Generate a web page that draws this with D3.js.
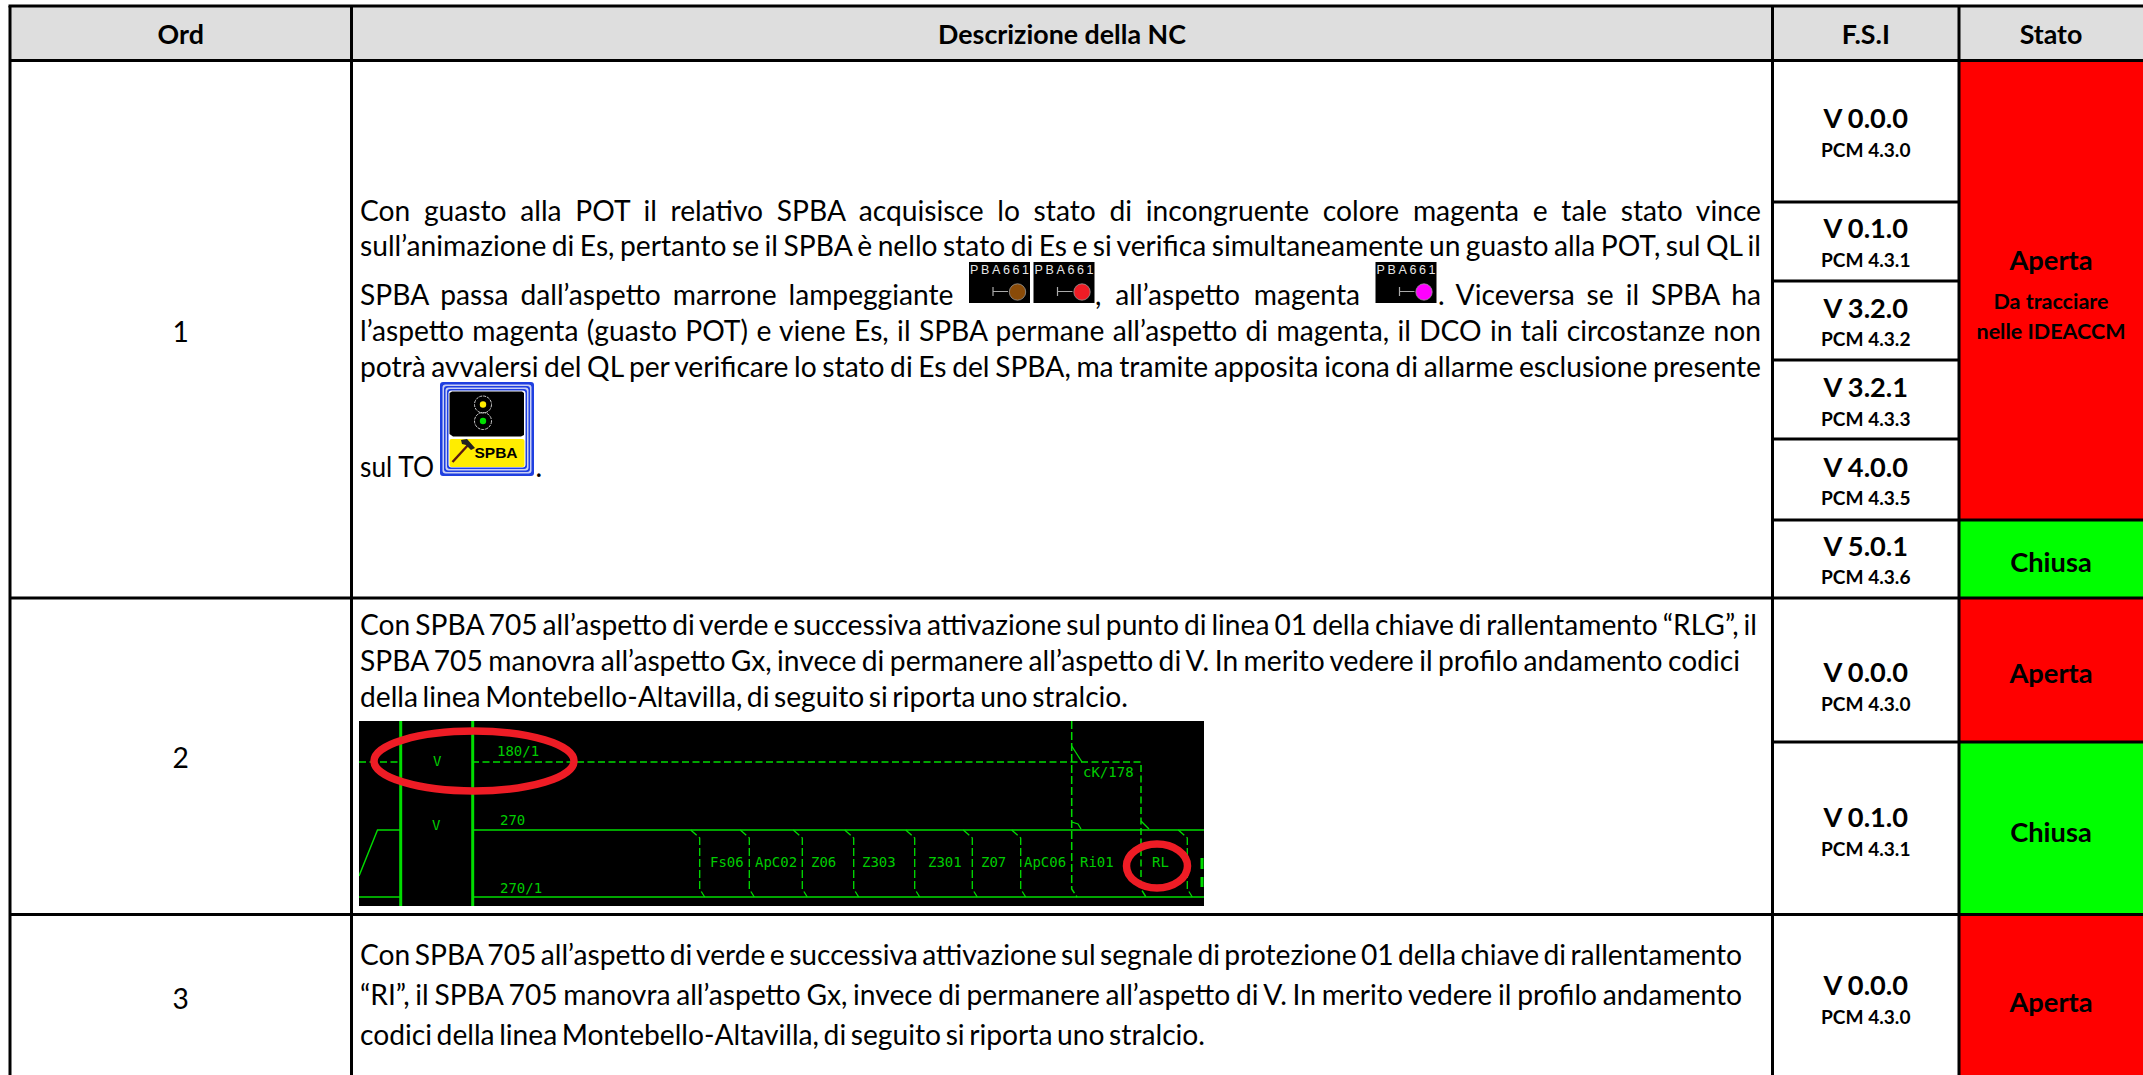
<!DOCTYPE html>
<html>
<head>
    <meta charset="UTF-8">
    <title>Descrizione della NC</title>
    <script src="https://d3js.org/d3.v7.min.js"></script>
    <style>
        html, body { margin: 0; padding: 0; background: #fff; overflow: hidden; }
        svg { display: block; }
        text { font-family: Lato, "Noto Sans", sans-serif; fill: #000; }
        .bold { font-weight: 700; }
        .grid { stroke: #000; stroke-width: 3px; fill: none; }
        .diagram text { font-family: "DejaVu Sans Mono", monospace; fill: #00cc00; font-size: 14px; }
        .chip text { font-family: "Liberation Sans", sans-serif; fill: #e8e8e8; font-size: 12.5px; }
    </style>
</head>
<body>
    <div id="table"></div>
    <script>
        // contenuto della tabella
        const columns = ["Ord", "Descrizione della NC", "F.S.I", "Stato"];
        const ords = ["1", "2", "3"];
        const versions = ["V 0.0.0", "V 0.1.0", "V 3.2.0", "V 3.2.1", "V 4.0.0", "V 5.0.1", "V 0.0.0", "V 0.1.0", "V 0.0.0"];
        const pcms = ["PCM 4.3.0", "PCM 4.3.1", "PCM 4.3.2", "PCM 4.3.3", "PCM 4.3.5", "PCM 4.3.6", "PCM 4.3.0", "PCM 4.3.1", "PCM 4.3.0"];
        const stati = ["Aperta", "Chiusa", "Aperta", "Chiusa", "Aperta"];
        const statoNote = ["Da tracciare", "nelle IDEACCM"];
        const statoColors = { Aperta: "#ff0000", Chiusa: "#00ff00" };

        const row1Lines = [
            "Con guasto alla POT il relativo SPBA acquisisce lo stato di incongruente colore magenta e tale stato vince",
            "sull’animazione di Es, pertanto se il SPBA è nello stato di Es e si verifica simultaneamente un guasto alla POT, sul QL il",
            "SPBA passa dall’aspetto marrone lampeggiante",
            ", all’aspetto magenta",
            ". Viceversa se il SPBA ha",
            "l’aspetto magenta (guasto POT) e viene Es, il SPBA permane all’aspetto di magenta, il DCO in tali circostanze non",
            "potrà avvalersi del QL per verificare lo stato di Es del SPBA, ma tramite apposita icona di allarme esclusione presente",
            "sul TO",
            "."
        ];
        const row2Lines = [
            "Con SPBA 705 all’aspetto di verde e successiva attivazione sul punto di linea 01 della chiave di rallentamento “RLG”, il",
            "SPBA 705 manovra all’aspetto Gx, invece di permanere all’aspetto di V. In merito vedere il profilo andamento codici",
            "della linea Montebello-Altavilla, di seguito si riporta uno stralcio."
        ];
        const row3Lines = [
            "Con SPBA 705 all’aspetto di verde e successiva attivazione sul segnale di protezione 01 della chiave di rallentamento",
            "“RI”, il SPBA 705 manovra all’aspetto Gx, invece di permanere all’aspetto di V. In merito vedere il profilo andamento",
            "codici della linea Montebello-Altavilla, di seguito si riporta uno stralcio."
        ];

        const chipLabel = "PBA661";
        const chipColors = ["#8a4b08", "#ee1c25", "#ff00ff"];

        const diagramLabels = ["180/1", "V", "V", "270", "270/1", "Fs06", "ApC02", "Z06", "Z303", "Z301", "Z07", "ApC06", "Ri01", "RL", "cK/178"];

        // impaginazione
        const width = 2143, height = 1075;
        const fontBody = 28.2;

        const colX = d3.scaleOrdinal().domain(columns.concat("end")).range([10, 351.5, 1772.5, 1959, 2143]);
        const colMid = c => (colX(c) + colX(columns[columns.indexOf(c) + 1] || "end")) / 2;

        // righe F.S.I: indice -> y
        const fsiY = d3.scaleLinear().domain(d3.range(10)).range([60.5, 202, 281, 360, 439, 520, 598, 742, 914.5, 1080]);

        const svg = d3.select("#table").append("svg").attr("width", width).attr("height", height);

        // intestazione e celle stato
        svg.append("rect").attr("x", colX("Ord")).attr("y", 6).attr("width", width - colX("Ord")).attr("height", 54.5).attr("fill", "#dedede");

        const statoSpans = [[0, 5], [5, 6], [6, 7], [7, 8], [8, 9]];
        svg.selectAll(".stato-cell")
            .data(stati)
            .join("rect")
            .attr("class", "stato-cell")
            .attr("x", colX("Stato"))
            .attr("width", width - colX("Stato"))
            .attr("y", (d, i) => fsiY(statoSpans[i][0]))
            .attr("height", (d, i) => fsiY(statoSpans[i][1]) - fsiY(statoSpans[i][0]))
            .attr("fill", d => statoColors[d]);

        // griglia
        const grid = svg.append("g").attr("class", "grid");
        grid.selectAll(".v")
            .data(columns)
            .join("line")
            .attr("x1", d => colX(d)).attr("x2", d => colX(d))
            .attr("y1", 6).attr("y2", height);
        grid.append("line").attr("x1", colX("Ord") - 1.5).attr("x2", width).attr("y1", 6).attr("y2", 6);
        grid.selectAll(".h")
            .data([0, 6, 8])
            .join("line")
            .attr("x1", colX("Ord")).attr("x2", width)
            .attr("y1", d => fsiY(d)).attr("y2", d => fsiY(d));
        grid.selectAll(".f")
            .data([1, 2, 3, 4, 5, 7])
            .join("line")
            .attr("x1", colX("F.S.I")).attr("x2", d => d === 5 || d === 7 ? width : colX("Stato"))
            .attr("y1", d => fsiY(d)).attr("y2", d => fsiY(d));

        // testo intestazione
        svg.selectAll(".head")
            .data(columns)
            .join("text")
            .attr("class", "bold")
            .attr("x", d => colMid(d))
            .attr("y", 44)
            .attr("text-anchor", "middle")
            .attr("font-size", 26.8)
            .text(d => d);

        const ordBaseline = [341.5, 768, 1009];
        svg.selectAll(".ord")
            .data(ords)
            .join("text")
            .attr("x", colMid("Ord"))
            .attr("y", (d, i) => ordBaseline[i])
            .attr("text-anchor", "middle")
            .attr("font-size", fontBody)
            .text(d => d);

        // versioni
        const versionBase = [128, 238, 317.5, 397, 476.5, 555.5, 682, 827, 995];
        svg.selectAll(".ver")
            .data(versions)
            .join("text")
            .attr("class", "bold")
            .attr("x", colMid("F.S.I"))
            .attr("y", (d, i) => versionBase[i])
            .attr("text-anchor", "middle")
            .attr("font-size", 27.2)
            .text(d => d);
        svg.selectAll(".pcm")
            .data(pcms)
            .join("text")
            .attr("class", "bold")
            .attr("x", colMid("F.S.I"))
            .attr("y", (d, i) => versionBase[i] + 28.5)
            .attr("text-anchor", "middle")
            .attr("font-size", 19.1)
            .text(d => d);

        // stato
        const statoBase = [270, 572, 683, 842, 1012];
        svg.selectAll(".stato")
            .data(stati)
            .join("text")
            .attr("class", "bold")
            .attr("x", colMid("Stato"))
            .attr("y", (d, i) => statoBase[i])
            .attr("text-anchor", "middle")
            .attr("font-size", 27.3)
            .text(d => d);
        svg.selectAll(".nota")
            .data(statoNote)
            .join("text")
            .attr("class", "bold")
            .attr("x", colMid("Stato"))
            .attr("y", (d, i) => 309 + i * 30)
            .attr("text-anchor", "middle")
            .attr("font-size", 21.5)
            .text(d => d);

        // riga di testo portata alla larghezza voluta con la spaziatura delle parole
        function fitLine(str, x0, x1, y) {
            const t = svg.append("text").attr("x", x0).attr("y", y).attr("font-size", fontBody).text(str);
            const spaces = str.split(" ").length - 1;
            if (x1 && spaces) {
                const extra = (x1 - x0 - t.node().getComputedTextLength()) / spaces;
                t.style("word-spacing", extra + "px");
            }
            return t;
        }

        const textLeft = 360;
        fitLine(row1Lines[0], textLeft, 1761, 220.5);
        fitLine(row1Lines[1], textLeft, 1761, 256);
        fitLine(row1Lines[2], textLeft, 953.5, 304.5);
        fitLine(row1Lines[3], 1095, 1360, 304.5);
        fitLine(row1Lines[4], 1438, 1761, 304.5);
        fitLine(row1Lines[5], textLeft, 1761, 340.5);
        fitLine(row1Lines[6], textLeft, 1761, 376.5);
        // qui Lato e' piu' largo dello spazio prima dell'icona
        fitLine(row1Lines[7], textLeft, null, 476.5).attr("textLength", 74).attr("lengthAdjust", "spacingAndGlyphs");
        fitLine(row1Lines[8], 535.5, null, 476.5);

        const row2Right = [1757, 1740, 1128];
        row2Lines.forEach((s, i) => fitLine(s, textLeft, row2Right[i], 634.5 + i * 36));
        const row3Right = [1742, 1742, 1205];
        row3Lines.forEach((s, i) => fitLine(s, textLeft, row3Right[i], 965 + i * 40));

        // icone PBA661
        const chipX = [969, 1033.5, 1375.5];
        const chips = svg.selectAll(".chip")
            .data(chipColors)
            .join("g")
            .attr("class", "chip")
            .attr("transform", (d, i) => `translate(${chipX[i]},262)`);
        chips.append("rect").attr("width", 61).attr("height", 41).attr("fill", "#000");
        chips.append("text").attr("x", 1).attr("y", 12).attr("textLength", 59).attr("lengthAdjust", "spacing").text(chipLabel);
        chips.append("path").attr("d", "M24 25V34M24 29.5H39").attr("stroke", "#aaa").attr("stroke-width", 1.2).attr("fill", "none");
        chips.append("circle").attr("cx", 48.5).attr("cy", 30).attr("r", 8.2).attr("fill", d => d).attr("stroke", "#999").attr("stroke-width", 0.8);

        // icona allarme esclusione SPBA
        const icon = svg.append("g").attr("transform", "translate(440,382)");
        [["#1f3fe0", 0], ["#c9d0f4", 2.5], ["#1f3fe0", 4], ["#c9d0f4", 5.5], ["#1f3fe0", 7], ["#ffffff", 8.5]].forEach(([c, o]) => {
            icon.append("rect").attr("x", o).attr("y", o).attr("width", 94 - 2 * o).attr("height", 94 - 2 * o).attr("rx", 3).attr("fill", c);
        });
        icon.append("path").attr("d", "M9.5 11L12 9.5H82L84 11V53L81 54.5H13L9.5 52Z").attr("fill", "#000");
        icon.append("rect").attr("x", 9.5).attr("y", 57).attr("width", 75).attr("height", 28).attr("rx", 2).attr("fill", "#ffed00");
        [[43, 22.5, "#ffed00"], [43, 39, "#00e000"]].forEach(([x, y, c]) => {
            icon.append("circle").attr("cx", x).attr("cy", y).attr("r", 8.5).attr("fill", "none").attr("stroke", "#ccc").attr("stroke-width", 1).attr("stroke-dasharray", "3 1");
            icon.append("circle").attr("cx", x).attr("cy", y).attr("r", 3.2).attr("fill", c);
        });
        icon.append("path").attr("d", "M12.5 80L29 62").attr("stroke", "#5a1a10").attr("stroke-width", 2.4);
        icon.append("path").attr("d", "M21 58L27 57L35 66L31 68L26 63L22 62Z").attr("fill", "#222");
        icon.append("text").attr("class", "bold").attr("x", 34.5).attr("y", 76).attr("font-size", 15.5)
            .style("font-family", "'Liberation Sans', sans-serif").attr("fill", "#111").text("SPBA");

        // stralcio del profilo codici
        const diagramW = 845, diagramH = 185;
        const diagX = d3.scaleLinear().domain([0, diagramW]).range([359, 1204]);
        const diagY = d3.scaleLinear().domain([0, diagramH]).range([721, 906]);
        const line = d3.line().x(d => diagX(d[0])).y(d => diagY(d[1]));
        const solid = "#00dc00";

        svg.append("clipPath").attr("id", "diagram-clip").append("rect")
            .attr("x", diagX(0)).attr("y", diagY(0)).attr("width", diagramW).attr("height", diagramH);
        const diagram = svg.append("g").attr("class", "diagram").attr("clip-path", "url(#diagram-clip)");
        diagram.append("rect").attr("x", diagX(0)).attr("y", diagY(0)).attr("width", diagramW).attr("height", diagramH).attr("fill", "#000");

        const addPath = (pts, w, dash) => diagram.append("path")
            .attr("d", line(pts)).attr("fill", "none").attr("stroke", solid).attr("stroke-width", w)
            .attr("stroke-dasharray", dash || null);

        addPath([[0, 155], [18.5, 109], [41, 109]], 1.4);
        addPath([[113, 109], [845, 109]], 1.5);
        addPath([[0, 176], [41, 176]], 1.5);
        addPath([[113, 176], [845, 176]], 1.5);
        addPath([[0, 41], [41, 41]], 1.5, "7 3.5");
        addPath([[113, 41], [782, 41], [782, 168], [787, 176]], 1.5, "7 3.5");
        addPath([[41.7, 0], [41.7, diagramH]], 3);
        addPath([[113.7, 0], [113.7, diagramH]], 3);

        const tickPositions = [340.7, 390.3, 443.3, 494.7, 555.7, 613.3, 661.7, 828.3];
        tickPositions.forEach(x => {
            addPath([[x - 9, 109], [x, 117], [x, 168], [x + 5, 176]], 1.3, "8 3");
        });
        addPath([[712.7, 0], [712.7, 168], [718, 176]], 1.5, "8 3");
        addPath([[712.7, 25], [723, 41]], 1.3);
        addPath([[712.7, 101], [719, 103], [722, 108]], 1.3);
        addPath([[782, 100], [790, 108]], 1.3);
        addPath([[843, 137], [843, 148]], 3);
        addPath([[843, 156], [843, 166]], 3);

        const labelX = [138, 74, 73, 141, 141, 351, 396, 452, 503, 569, 622, 665, 721, 793, 724];
        const labelY = [35, 45, 109, 104, 172, 146, 146, 146, 146, 146, 146, 146, 146, 146, 56];
        diagram.selectAll(".lab")
            .data(diagramLabels)
            .join("text")
            .attr("x", (d, i) => diagX(labelX[i]))
            .attr("y", (d, i) => diagY(labelY[i]))
            .text(d => d);

        // cerchi rossi
        const rings = [[115, 40, 100, 30], [798, 145, 30.5, 22]];
        svg.selectAll(".ring")
            .data(rings)
            .join("ellipse")
            .attr("cx", d => diagX(d[0]))
            .attr("cy", d => diagY(d[1]))
            .attr("rx", d => d[2])
            .attr("ry", d => d[3])
            .attr("fill", "none")
            .attr("stroke", "#ee1c25")
            .attr("stroke-width", 7.5);
    </script>
</body>
</html>
